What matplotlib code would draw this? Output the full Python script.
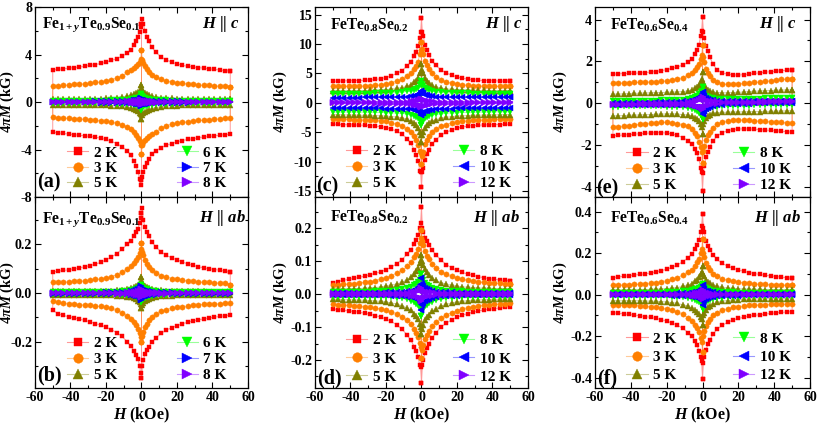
import matplotlib
matplotlib.use("Agg")
import matplotlib.pyplot as plt
from matplotlib.lines import Line2D
from matplotlib.ticker import MultipleLocator, FormatStrFormatter
from matplotlib.colors import to_rgba

plt.rcParams.update({
    "font.family": "Liberation Serif",
    "font.weight": "bold",
    "axes.labelweight": "bold",
    "axes.unicode_minus": False,
    "mathtext.fontset": "custom",
    "mathtext.rm": "Liberation Serif:bold",
    "mathtext.it": "Liberation Serif:italic:bold",
    "mathtext.bf": "Liberation Serif:bold",
})

# field grid (kOe), shared by every loop
H = [-50, -47, -44, -41, -38, -35, -32, -29, -26, -23, -20, -17, -14, -11, -8, -6, -4, -3, -2, -1, -0.5,
     0, 0.5, 1, 2, 3, 4, 6, 8, 11, 14, 17, 20, 23, 26, 29, 32, 35, 38, 41, 44, 47, 50]

TEMPS_A = ["2 K", "3 K", "5 K", "6 K", "7 K", "8 K"]
TEMPS_C = ["2 K", "3 K", "5 K", "8 K", "10 K", "12 K"]

# ---- (a) Fe1+yTe0.9Se0.1, H || c  (kG) ; U = upper branch, D = lower branch
A2U = [2.7,2.75,2.8,2.85,2.9,2.95,3.0,3.1,3.15,3.25,3.35,3.5,3.65,3.85,4.1,4.4,4.8,5.1,5.5,5.9,6.3,6.6,7.0,6.6,6.0,5.5,5.1,4.6,4.2,3.8,3.55,3.35,3.2,3.1,3.0,2.95,2.9,2.85,2.8,2.75,2.7,2.65,2.6]
A2D = [-2.55,-2.6,-2.65,-2.7,-2.75,-2.8,-2.85,-2.9,-2.95,-3.05,-3.15,-3.3,-3.5,-3.75,-4.1,-4.5,-5.0,-5.4,-5.9,-6.5,-7.0,-6.6,-6.3,-5.9,-5.5,-5.1,-4.8,-4.4,-4.1,-3.85,-3.65,-3.5,-3.35,-3.25,-3.15,-3.1,-3.0,-2.95,-2.9,-2.85,-2.8,-2.75,-2.7]
A3U = [1.35,1.38,1.4,1.45,1.5,1.52,1.55,1.6,1.65,1.7,1.78,1.88,2.0,2.2,2.5,2.7,2.9,3.05,3.2,3.4,3.6,4.4,3.5,3.3,3.0,2.75,2.55,2.3,2.1,1.9,1.78,1.7,1.63,1.57,1.52,1.48,1.45,1.42,1.4,1.37,1.35,1.32,1.3]
A3D = [-1.3,-1.32,-1.35,-1.37,-1.4,-1.42,-1.45,-1.48,-1.52,-1.57,-1.63,-1.7,-1.78,-1.9,-2.1,-2.3,-2.55,-2.75,-3.0,-3.3,-3.6,-4.4,-3.6,-3.4,-3.2,-3.05,-2.9,-2.7,-2.5,-2.2,-2.0,-1.88,-1.78,-1.7,-1.65,-1.6,-1.55,-1.52,-1.5,-1.45,-1.4,-1.38,-1.35]
A5U = [0.25,0.25,0.25,0.25,0.26,0.26,0.27,0.27,0.28,0.29,0.3,0.32,0.35,0.4,0.47,0.55,0.65,0.72,0.82,0.95,1.1,1.45,1.0,0.9,0.78,0.68,0.6,0.5,0.43,0.37,0.33,0.3,0.28,0.27,0.26,0.26,0.25,0.25,0.24,0.24,0.24,0.23,0.23]
A5D = [-0.23,-0.23,-0.24,-0.24,-0.24,-0.25,-0.25,-0.26,-0.26,-0.27,-0.28,-0.3,-0.33,-0.37,-0.43,-0.5,-0.6,-0.68,-0.78,-0.9,-1.0,-1.45,-1.1,-0.95,-0.82,-0.72,-0.65,-0.55,-0.47,-0.4,-0.35,-0.32,-0.3,-0.29,-0.28,-0.27,-0.27,-0.26,-0.26,-0.25,-0.25,-0.25,-0.25]
A6U = [0.1,0.1,0.1,0.1,0.1,0.1,0.1,0.11,0.11,0.12,0.12,0.13,0.14,0.16,0.19,0.22,0.27,0.31,0.36,0.45,0.52,0.7,0.48,0.42,0.34,0.29,0.25,0.2,0.17,0.14,0.13,0.12,0.11,0.11,0.1,0.1,0.1,0.1,0.09,0.09,0.09,0.09,0.09]
A6D = [-0.09,-0.09,-0.09,-0.09,-0.09,-0.1,-0.1,-0.1,-0.1,-0.11,-0.11,-0.12,-0.13,-0.14,-0.17,-0.2,-0.25,-0.29,-0.34,-0.42,-0.48,-0.7,-0.52,-0.45,-0.36,-0.31,-0.27,-0.22,-0.19,-0.16,-0.14,-0.13,-0.12,-0.12,-0.11,-0.11,-0.1,-0.1,-0.1,-0.1,-0.1,-0.1,-0.1]
A7U = [0.04,0.04,0.04,0.04,0.04,0.04,0.04,0.04,0.05,0.05,0.05,0.05,0.06,0.07,0.08,0.1,0.13,0.15,0.18,0.22,0.26,0.35,0.24,0.2,0.16,0.13,0.11,0.09,0.07,0.06,0.05,0.05,0.05,0.05,0.04,0.04,0.04,0.04,0.04,0.04,0.04,0.04,0.04]
A7D = [-0.04,-0.04,-0.04,-0.04,-0.04,-0.04,-0.04,-0.04,-0.04,-0.05,-0.05,-0.05,-0.05,-0.06,-0.07,-0.09,-0.11,-0.13,-0.16,-0.2,-0.24,-0.35,-0.26,-0.22,-0.18,-0.15,-0.13,-0.1,-0.08,-0.07,-0.06,-0.05,-0.05,-0.05,-0.05,-0.04,-0.04,-0.04,-0.04,-0.04,-0.04,-0.04,-0.04]
A8U = [0.02,0.02,0.02,0.02,0.02,0.02,0.02,0.02,0.02,0.02,0.02,0.03,0.03,0.04,0.05,0.06,0.08,0.09,0.11,0.13,0.15,0.2,0.14,0.12,0.09,0.08,0.06,0.05,0.04,0.03,0.03,0.02,0.02,0.02,0.02,0.02,0.02,0.02,0.02,0.02,0.02,0.02,0.02]
A8D = [-0.02,-0.02,-0.02,-0.02,-0.02,-0.02,-0.02,-0.02,-0.02,-0.02,-0.02,-0.02,-0.03,-0.03,-0.04,-0.05,-0.06,-0.08,-0.09,-0.12,-0.14,-0.2,-0.15,-0.13,-0.11,-0.09,-0.08,-0.06,-0.05,-0.04,-0.03,-0.03,-0.02,-0.02,-0.02,-0.02,-0.02,-0.02,-0.02,-0.02,-0.02,-0.02,-0.02]

# ---- (b) Fe1+yTe0.9Se0.1, H || ab
B2U = [0.087,0.09,0.093,0.096,0.1,0.104,0.108,0.113,0.119,0.126,0.136,0.148,0.162,0.18,0.2,0.215,0.235,0.25,0.265,0.29,0.31,0.33,0.35,0.3,0.27,0.25,0.235,0.21,0.19,0.17,0.155,0.145,0.137,0.128,0.12,0.114,0.108,0.104,0.1,0.097,0.094,0.09,0.085]
B2D = [-0.07,-0.085,-0.092,-0.097,-0.102,-0.107,-0.112,-0.118,-0.125,-0.132,-0.14,-0.15,-0.162,-0.178,-0.2,-0.218,-0.24,-0.255,-0.27,-0.3,-0.33,-0.35,-0.3,-0.275,-0.25,-0.235,-0.22,-0.2,-0.185,-0.166,-0.152,-0.142,-0.134,-0.126,-0.12,-0.114,-0.11,-0.106,-0.102,-0.099,-0.096,-0.093,-0.09]
B3U = [0.044,0.045,0.046,0.047,0.048,0.05,0.051,0.053,0.056,0.059,0.063,0.068,0.075,0.085,0.098,0.11,0.125,0.135,0.148,0.165,0.18,0.205,0.17,0.155,0.135,0.12,0.108,0.093,0.082,0.072,0.065,0.06,0.056,0.053,0.05,0.048,0.047,0.045,0.044,0.043,0.042,0.04,0.033]
B3D = [-0.034,-0.038,-0.041,-0.043,-0.045,-0.047,-0.048,-0.05,-0.052,-0.055,-0.058,-0.063,-0.07,-0.08,-0.093,-0.105,-0.12,-0.132,-0.148,-0.165,-0.18,-0.2,-0.175,-0.16,-0.14,-0.125,-0.112,-0.097,-0.085,-0.075,-0.068,-0.063,-0.059,-0.056,-0.053,-0.05,-0.048,-0.046,-0.045,-0.044,-0.043,-0.042,-0.04]
B5U = [0.007,0.007,0.007,0.007,0.007,0.007,0.007,0.008,0.008,0.008,0.009,0.01,0.011,0.013,0.016,0.019,0.024,0.028,0.033,0.04,0.047,0.065,0.045,0.038,0.031,0.026,0.022,0.017,0.014,0.011,0.01,0.009,0.008,0.008,0.007,0.007,0.007,0.007,0.006,0.006,0.006,0.006,0.006]
B5D = [-0.006,-0.006,-0.006,-0.006,-0.006,-0.007,-0.007,-0.007,-0.007,-0.008,-0.008,-0.009,-0.01,-0.011,-0.014,-0.017,-0.022,-0.026,-0.031,-0.038,-0.045,-0.06,-0.047,-0.04,-0.033,-0.028,-0.024,-0.019,-0.016,-0.013,-0.011,-0.01,-0.009,-0.008,-0.008,-0.008,-0.007,-0.007,-0.007,-0.007,-0.007,-0.007,-0.007]
B6U = [0.003,0.003,0.003,0.003,0.003,0.003,0.003,0.003,0.003,0.004,0.004,0.005,0.006,0.007,0.009,0.011,0.014,0.016,0.019,0.024,0.028,0.035,0.026,0.022,0.018,0.015,0.012,0.009,0.007,0.006,0.005,0.004,0.004,0.003,0.003,0.003,0.003,0.003,0.003,0.003,0.003,0.003,0.003]
B6D = [-0.003,-0.003,-0.003,-0.003,-0.003,-0.003,-0.003,-0.003,-0.003,-0.003,-0.004,-0.004,-0.005,-0.006,-0.007,-0.009,-0.012,-0.015,-0.018,-0.022,-0.026,-0.035,-0.028,-0.024,-0.019,-0.016,-0.014,-0.011,-0.009,-0.007,-0.006,-0.005,-0.004,-0.004,-0.003,-0.003,-0.003,-0.003,-0.003,-0.003,-0.003,-0.003,-0.003]
B7U = [0.002,0.002,0.002,0.002,0.002,0.002,0.002,0.002,0.002,0.002,0.003,0.003,0.004,0.005,0.006,0.008,0.01,0.012,0.015,0.019,0.023,0.03,0.021,0.017,0.013,0.011,0.009,0.007,0.005,0.004,0.003,0.003,0.002,0.002,0.002,0.002,0.002,0.002,0.002,0.002,0.002,0.002,0.002]
B7D = [-0.002,-0.002,-0.002,-0.002,-0.002,-0.002,-0.002,-0.002,-0.002,-0.002,-0.002,-0.003,-0.003,-0.004,-0.005,-0.007,-0.009,-0.011,-0.013,-0.017,-0.021,-0.03,-0.023,-0.019,-0.015,-0.012,-0.01,-0.008,-0.006,-0.005,-0.004,-0.003,-0.003,-0.002,-0.002,-0.002,-0.002,-0.002,-0.002,-0.002,-0.002,-0.002,-0.002]
B8U = [0.001,0.001,0.001,0.001,0.001,0.001,0.001,0.001,0.001,0.001,0.001,0.001,0.002,0.002,0.003,0.004,0.005,0.006,0.008,0.01,0.012,0.016,0.011,0.009,0.007,0.006,0.005,0.004,0.003,0.002,0.002,0.001,0.001,0.001,0.001,0.001,0.001,0.001,0.001,0.001,0.001,0.001,0.001]
B8D = [-0.001,-0.001,-0.001,-0.001,-0.001,-0.001,-0.001,-0.001,-0.001,-0.001,-0.001,-0.001,-0.002,-0.002,-0.003,-0.004,-0.005,-0.006,-0.007,-0.009,-0.011,-0.016,-0.012,-0.01,-0.008,-0.006,-0.005,-0.004,-0.003,-0.002,-0.002,-0.001,-0.001,-0.001,-0.001,-0.001,-0.001,-0.001,-0.001,-0.001,-0.001,-0.001,-0.001]

# ---- (c) FeTe0.8Se0.2, H || c
C2U = [3.7,3.7,3.75,3.75,3.8,3.8,3.85,3.9,4.0,4.1,4.3,4.6,5.0,5.5,6.3,7.0,8.0,8.7,9.7,11.0,12.0,14.4,12.0,11.3,9.9,9.0,8.2,7.1,6.4,5.6,5.1,4.7,4.4,4.2,4.05,3.95,3.85,3.8,3.78,3.75,3.72,3.7,3.7]
C2D = [-3.6,-3.65,-3.7,-3.72,-3.75,-3.78,-3.8,-3.85,-3.95,-4.05,-4.2,-4.45,-4.8,-5.3,-6.1,-6.9,-8.0,-8.8,-9.8,-11.5,-11.8,-14.3,-11.7,-11.0,-9.7,-8.7,-8.0,-7.0,-6.3,-5.5,-5.0,-4.6,-4.3,-4.1,-3.95,-3.85,-3.8,-3.75,-3.72,-3.7,-3.68,-3.65,-3.6]
C3U = [2.8,2.8,2.82,2.84,2.86,2.88,2.9,2.95,3.0,3.1,3.2,3.4,3.7,4.0,4.5,5.0,5.7,6.3,7.0,8.3,9.0,10.4,9.2,8.3,7.2,6.4,5.8,5.0,4.4,3.9,3.55,3.35,3.2,3.1,3.0,2.95,2.9,2.88,2.85,2.83,2.8,2.8,2.8]
C3D = [-2.7,-2.75,-2.78,-2.8,-2.83,-2.85,-2.88,-2.92,-2.98,-3.05,-3.15,-3.35,-3.6,-3.9,-4.4,-4.9,-5.7,-6.3,-7.1,-8.2,-8.6,-10.4,-9.0,-8.3,-7.0,-6.3,-5.7,-5.0,-4.5,-4.0,-3.7,-3.4,-3.2,-3.1,-3.0,-2.95,-2.9,-2.86,-2.84,-2.82,-2.8,-2.78,-2.75]
C5U = [2.0,2.0,2.02,2.04,2.06,2.08,2.1,2.12,2.15,2.2,2.25,2.35,2.45,2.6,2.85,3.1,3.5,3.8,4.3,5.0,5.5,6.6,5.6,5.0,4.3,3.8,3.45,3.0,2.75,2.5,2.38,2.3,2.25,2.2,2.17,2.15,2.13,2.12,2.1,2.1,2.1,2.1,2.1]
C5D = [-2.0,-2.02,-2.04,-2.06,-2.08,-2.1,-2.12,-2.14,-2.17,-2.2,-2.25,-2.32,-2.42,-2.55,-2.8,-3.05,-3.45,-3.8,-4.3,-5.0,-5.5,-6.6,-5.5,-5.0,-4.3,-3.8,-3.5,-3.1,-2.85,-2.6,-2.45,-2.35,-2.25,-2.2,-2.15,-2.12,-2.1,-2.08,-2.06,-2.04,-2.02,-2.0,-2.0]
C8U = [1.5,1.5,1.5,1.52,1.53,1.55,1.56,1.58,1.6,1.62,1.65,1.7,1.75,1.82,1.95,2.05,2.25,2.4,2.6,3.0,3.2,3.7,3.2,2.9,2.55,2.35,2.2,2.0,1.88,1.78,1.72,1.68,1.65,1.62,1.6,1.58,1.57,1.56,1.55,1.55,1.55,1.55,1.55]
C8D = [-1.55,-1.55,-1.55,-1.55,-1.55,-1.56,-1.57,-1.58,-1.6,-1.62,-1.65,-1.68,-1.72,-1.78,-1.88,-2.0,-2.2,-2.35,-2.55,-2.9,-3.2,-3.7,-3.2,-3.0,-2.6,-2.4,-2.25,-2.05,-1.95,-1.82,-1.75,-1.7,-1.65,-1.62,-1.6,-1.58,-1.56,-1.55,-1.53,-1.52,-1.5,-1.5,-1.5]
C10U = [0.9,0.9,0.9,0.9,0.91,0.91,0.92,0.92,0.93,0.94,0.95,0.97,1.0,1.03,1.08,1.15,1.25,1.32,1.45,1.65,1.8,2.1,1.75,1.6,1.42,1.3,1.22,1.12,1.06,1.02,0.99,0.97,0.96,0.95,0.94,0.93,0.93,0.92,0.92,0.92,0.92,0.92,0.92]
C10D = [-0.92,-0.92,-0.92,-0.92,-0.92,-0.92,-0.93,-0.93,-0.94,-0.95,-0.96,-0.97,-0.99,-1.02,-1.06,-1.12,-1.22,-1.3,-1.42,-1.6,-1.75,-2.1,-1.8,-1.65,-1.45,-1.32,-1.25,-1.15,-1.08,-1.03,-1.0,-0.97,-0.95,-0.94,-0.93,-0.92,-0.92,-0.91,-0.91,-0.9,-0.9,-0.9,-0.9]
C12U = [0.1,0.1,0.1,0.1,0.1,0.1,0.1,0.1,0.11,0.11,0.12,0.13,0.14,0.16,0.2,0.25,0.32,0.37,0.45,0.55,0.6,0.7,0.58,0.5,0.42,0.35,0.3,0.24,0.19,0.16,0.14,0.13,0.12,0.11,0.11,0.1,0.1,0.1,0.1,0.1,0.1,0.1,0.1]
C12D = [-0.1,-0.1,-0.1,-0.1,-0.1,-0.1,-0.1,-0.1,-0.11,-0.11,-0.12,-0.13,-0.14,-0.16,-0.19,-0.24,-0.3,-0.35,-0.42,-0.5,-0.58,-0.7,-0.6,-0.55,-0.45,-0.37,-0.32,-0.25,-0.2,-0.16,-0.14,-0.13,-0.12,-0.11,-0.11,-0.1,-0.1,-0.1,-0.1,-0.1,-0.1,-0.1,-0.1]

# ---- (d) FeTe0.8Se0.2, H || ab
D2U = [0.035,0.038,0.042,0.045,0.048,0.051,0.055,0.059,0.063,0.068,0.074,0.082,0.092,0.105,0.122,0.135,0.153,0.165,0.18,0.2,0.215,0.265,0.2,0.19,0.172,0.16,0.15,0.133,0.12,0.103,0.09,0.08,0.072,0.066,0.061,0.057,0.053,0.05,0.047,0.045,0.043,0.042,0.04]
D2D = [-0.045,-0.047,-0.049,-0.051,-0.053,-0.055,-0.058,-0.061,-0.065,-0.07,-0.076,-0.083,-0.093,-0.106,-0.125,-0.14,-0.16,-0.172,-0.19,-0.215,-0.22,-0.27,-0.215,-0.2,-0.178,-0.165,-0.152,-0.133,-0.118,-0.1,-0.088,-0.078,-0.07,-0.064,-0.059,-0.055,-0.051,-0.048,-0.046,-0.044,-0.042,-0.04,-0.038]
D3U = [0.028,0.029,0.03,0.031,0.032,0.034,0.036,0.038,0.041,0.045,0.05,0.056,0.063,0.072,0.085,0.097,0.112,0.123,0.137,0.155,0.17,0.195,0.16,0.148,0.13,0.117,0.106,0.091,0.08,0.068,0.06,0.054,0.049,0.045,0.042,0.04,0.038,0.036,0.035,0.034,0.033,0.032,0.031]
D3D = [-0.031,-0.032,-0.033,-0.034,-0.035,-0.036,-0.038,-0.04,-0.042,-0.045,-0.049,-0.054,-0.06,-0.068,-0.08,-0.091,-0.106,-0.117,-0.13,-0.148,-0.16,-0.195,-0.17,-0.155,-0.137,-0.123,-0.112,-0.097,-0.085,-0.072,-0.063,-0.056,-0.05,-0.045,-0.041,-0.038,-0.036,-0.034,-0.032,-0.031,-0.03,-0.029,-0.028]
D5U = [0.015,0.015,0.016,0.016,0.017,0.017,0.018,0.019,0.02,0.022,0.024,0.027,0.031,0.036,0.044,0.052,0.062,0.07,0.08,0.095,0.105,0.12,0.1,0.09,0.077,0.067,0.059,0.049,0.042,0.035,0.03,0.027,0.024,0.022,0.021,0.02,0.019,0.018,0.018,0.017,0.017,0.016,0.016]
D5D = [-0.016,-0.016,-0.017,-0.017,-0.018,-0.018,-0.019,-0.02,-0.021,-0.022,-0.024,-0.027,-0.03,-0.035,-0.042,-0.049,-0.059,-0.067,-0.077,-0.09,-0.1,-0.12,-0.105,-0.095,-0.08,-0.07,-0.062,-0.052,-0.044,-0.036,-0.031,-0.027,-0.024,-0.022,-0.02,-0.019,-0.018,-0.017,-0.017,-0.016,-0.016,-0.015,-0.015]
D8U = [0.008,0.008,0.008,0.008,0.008,0.008,0.008,0.008,0.009,0.009,0.01,0.011,0.013,0.015,0.019,0.023,0.028,0.032,0.037,0.044,0.05,0.06,0.048,0.042,0.034,0.029,0.025,0.02,0.016,0.013,0.011,0.01,0.009,0.009,0.008,0.008,0.008,0.008,0.008,0.008,0.008,0.008,0.008]
D8D = [-0.008,-0.008,-0.008,-0.008,-0.008,-0.008,-0.008,-0.008,-0.008,-0.009,-0.009,-0.01,-0.011,-0.013,-0.016,-0.02,-0.025,-0.029,-0.034,-0.042,-0.048,-0.065,-0.05,-0.044,-0.037,-0.032,-0.028,-0.023,-0.019,-0.015,-0.013,-0.011,-0.01,-0.009,-0.009,-0.008,-0.008,-0.008,-0.008,-0.008,-0.008,-0.008,-0.008]
D10U = [0.004,0.004,0.004,0.004,0.004,0.004,0.004,0.004,0.004,0.004,0.005,0.005,0.006,0.007,0.009,0.011,0.014,0.017,0.021,0.027,0.032,0.048,0.03,0.025,0.019,0.015,0.012,0.01,0.008,0.006,0.005,0.005,0.004,0.004,0.004,0.004,0.004,0.004,0.004,0.004,0.004,0.004,0.004]
D10D = [-0.004,-0.004,-0.004,-0.004,-0.004,-0.004,-0.004,-0.004,-0.004,-0.004,-0.004,-0.005,-0.005,-0.006,-0.008,-0.01,-0.012,-0.015,-0.019,-0.025,-0.03,-0.048,-0.032,-0.027,-0.021,-0.017,-0.014,-0.011,-0.009,-0.007,-0.006,-0.005,-0.005,-0.004,-0.004,-0.004,-0.004,-0.004,-0.004,-0.004,-0.004,-0.004,-0.004]
D12U = [0.002,0.002,0.002,0.002,0.002,0.002,0.002,0.002,0.002,0.002,0.002,0.002,0.003,0.003,0.004,0.005,0.006,0.007,0.009,0.012,0.014,0.02,0.013,0.011,0.008,0.007,0.006,0.005,0.004,0.003,0.003,0.002,0.002,0.002,0.002,0.002,0.002,0.002,0.002,0.002,0.002,0.002,0.002]
D12D = [-0.002,-0.002,-0.002,-0.002,-0.002,-0.002,-0.002,-0.002,-0.002,-0.002,-0.002,-0.002,-0.003,-0.003,-0.004,-0.005,-0.006,-0.007,-0.008,-0.011,-0.013,-0.02,-0.014,-0.012,-0.009,-0.007,-0.006,-0.005,-0.004,-0.003,-0.003,-0.002,-0.002,-0.002,-0.002,-0.002,-0.002,-0.002,-0.002,-0.002,-0.002,-0.002,-0.002]

# ---- (e) FeTe0.6Se0.4, H || c
E2U = [1.38,1.4,1.41,1.42,1.43,1.44,1.46,1.48,1.51,1.55,1.6,1.66,1.73,1.82,1.95,2.1,2.35,2.55,2.8,3.2,3.45,4.1,3.4,3.1,2.75,2.5,2.2,1.85,1.6,1.45,1.38,1.35,1.34,1.36,1.39,1.42,1.45,1.48,1.5,1.52,1.55,1.57,1.6]
E2D = [-1.57,-1.55,-1.53,-1.51,-1.49,-1.47,-1.45,-1.43,-1.42,-1.42,-1.44,-1.48,-1.55,-1.65,-1.8,-1.95,-2.2,-2.4,-2.7,-3.1,-3.3,-4.2,-3.35,-3.0,-2.6,-2.35,-2.1,-1.8,-1.6,-1.42,-1.32,-1.27,-1.24,-1.24,-1.24,-1.25,-1.27,-1.29,-1.31,-1.33,-1.35,-1.37,-1.4]
E3U = [0.95,0.96,0.97,0.98,0.99,1.0,1.01,1.02,1.03,1.05,1.07,1.1,1.15,1.22,1.32,1.42,1.6,1.72,1.88,2.1,2.3,2.8,2.2,1.95,1.65,1.45,1.3,1.1,1.0,0.93,0.9,0.9,0.92,0.94,0.96,0.99,1.02,1.05,1.08,1.1,1.13,1.15,1.17]
E3D = [-1.15,-1.13,-1.1,-1.08,-1.05,-1.02,-0.99,-0.96,-0.94,-0.92,-0.92,-0.94,-0.98,-1.03,-1.12,-1.25,-1.45,-1.6,-1.85,-2.1,-2.35,-2.85,-2.3,-2.05,-1.78,-1.55,-1.38,-1.18,-1.0,-0.9,-0.85,-0.82,-0.8,-0.8,-0.82,-0.84,-0.86,-0.88,-0.9,-0.92,-0.93,-0.94,-0.95]
E5U = [0.42,0.43,0.44,0.45,0.46,0.47,0.48,0.49,0.5,0.5,0.51,0.52,0.53,0.55,0.58,0.62,0.7,0.76,0.85,1.0,1.15,1.5,1.0,0.85,0.7,0.62,0.57,0.52,0.5,0.49,0.49,0.5,0.51,0.53,0.55,0.56,0.58,0.59,0.6,0.61,0.62,0.63,0.63]
E5D = [-0.62,-0.61,-0.6,-0.59,-0.58,-0.57,-0.56,-0.55,-0.54,-0.53,-0.52,-0.52,-0.53,-0.55,-0.58,-0.62,-0.7,-0.76,-0.85,-1.0,-1.15,-1.5,-1.0,-0.85,-0.7,-0.62,-0.56,-0.5,-0.47,-0.45,-0.44,-0.43,-0.43,-0.42,-0.42,-0.41,-0.41,-0.4,-0.4,-0.39,-0.38,-0.38,-0.37]
E8U = [0.1,0.1,0.1,0.11,0.11,0.11,0.12,0.12,0.12,0.13,0.13,0.14,0.15,0.17,0.2,0.24,0.3,0.35,0.42,0.52,0.6,0.75,0.55,0.45,0.36,0.3,0.26,0.22,0.2,0.19,0.19,0.19,0.2,0.2,0.21,0.21,0.21,0.22,0.22,0.22,0.22,0.23,0.23]
E8D = [-0.17,-0.17,-0.16,-0.16,-0.16,-0.16,-0.16,-0.16,-0.16,-0.16,-0.17,-0.18,-0.19,-0.21,-0.24,-0.28,-0.34,-0.4,-0.47,-0.57,-0.65,-0.75,-0.55,-0.45,-0.36,-0.3,-0.25,-0.2,-0.17,-0.15,-0.14,-0.13,-0.12,-0.12,-0.12,-0.11,-0.11,-0.11,-0.11,-0.1,-0.1,-0.1,-0.1]
E10U = [0.0,0.0,0.01,0.01,0.01,0.02,0.02,0.02,0.03,0.03,0.04,0.05,0.06,0.08,0.11,0.14,0.19,0.23,0.28,0.36,0.42,0.52,0.38,0.32,0.25,0.2,0.17,0.13,0.11,0.09,0.08,0.08,0.08,0.08,0.08,0.09,0.09,0.09,0.09,0.1,0.1,0.1,0.1]
E10D = [-0.1,-0.1,-0.1,-0.1,-0.09,-0.09,-0.09,-0.09,-0.08,-0.08,-0.08,-0.08,-0.08,-0.09,-0.11,-0.13,-0.17,-0.2,-0.25,-0.32,-0.38,-0.52,-0.42,-0.36,-0.28,-0.23,-0.19,-0.14,-0.11,-0.08,-0.06,-0.05,-0.04,-0.03,-0.03,-0.02,-0.02,-0.02,-0.01,-0.01,-0.01,0.0,0.0]
E12U = [-0.04,-0.04,-0.03,-0.03,-0.03,-0.02,-0.02,-0.02,-0.01,-0.01,-0.01,0.0,0.01,0.02,0.04,0.06,0.09,0.11,0.14,0.18,0.21,0.28,0.2,0.17,0.14,0.12,0.1,0.09,0.08,0.07,0.07,0.07,0.07,0.07,0.07,0.07,0.08,0.08,0.08,0.08,0.08,0.08,0.08]
E12D = [-0.08,-0.08,-0.08,-0.08,-0.08,-0.08,-0.08,-0.07,-0.07,-0.07,-0.07,-0.07,-0.07,-0.08,-0.09,-0.1,-0.12,-0.14,-0.17,-0.2,-0.22,-0.28,-0.21,-0.18,-0.14,-0.11,-0.09,-0.06,-0.04,-0.02,-0.01,0.0,0.01,0.01,0.01,0.02,0.02,0.02,0.03,0.03,0.03,0.04,0.04]

# ---- (f) FeTe0.6Se0.4, H || ab
F2U = [0.082,0.085,0.088,0.091,0.094,0.097,0.1,0.104,0.109,0.115,0.122,0.131,0.143,0.158,0.178,0.195,0.22,0.24,0.265,0.3,0.33,0.39,0.32,0.3,0.26,0.235,0.215,0.19,0.17,0.15,0.137,0.127,0.119,0.112,0.106,0.101,0.097,0.093,0.09,0.087,0.084,0.081,0.078]
F2D = [-0.088,-0.09,-0.093,-0.096,-0.099,-0.102,-0.106,-0.11,-0.115,-0.121,-0.128,-0.137,-0.148,-0.163,-0.183,-0.2,-0.225,-0.245,-0.27,-0.3,-0.32,-0.405,-0.33,-0.3,-0.265,-0.24,-0.22,-0.19,-0.168,-0.148,-0.134,-0.123,-0.115,-0.109,-0.104,-0.1,-0.097,-0.094,-0.091,-0.088,-0.086,-0.084,-0.082]
F3U = [0.045,0.046,0.047,0.048,0.049,0.051,0.053,0.055,0.058,0.062,0.067,0.073,0.081,0.092,0.108,0.12,0.14,0.155,0.17,0.2,0.22,0.27,0.2,0.18,0.15,0.135,0.12,0.1,0.088,0.076,0.069,0.064,0.06,0.057,0.054,0.052,0.05,0.049,0.048,0.047,0.046,0.045,0.044]
F3D = [-0.048,-0.049,-0.05,-0.051,-0.052,-0.054,-0.056,-0.058,-0.061,-0.065,-0.07,-0.076,-0.085,-0.096,-0.112,-0.125,-0.145,-0.16,-0.18,-0.21,-0.23,-0.275,-0.2,-0.175,-0.15,-0.133,-0.118,-0.1,-0.087,-0.075,-0.068,-0.062,-0.058,-0.055,-0.052,-0.05,-0.049,-0.048,-0.047,-0.046,-0.046,-0.045,-0.045]
F5U = [0.022,0.022,0.022,0.023,0.023,0.024,0.024,0.025,0.026,0.027,0.029,0.031,0.034,0.039,0.046,0.053,0.064,0.072,0.083,0.1,0.11,0.14,0.1,0.088,0.072,0.062,0.055,0.046,0.04,0.035,0.032,0.03,0.028,0.027,0.026,0.025,0.025,0.024,0.024,0.024,0.023,0.023,0.023]
F5D = [-0.03,-0.03,-0.03,-0.03,-0.03,-0.03,-0.031,-0.032,-0.033,-0.034,-0.036,-0.039,-0.043,-0.049,-0.056,-0.064,-0.075,-0.083,-0.095,-0.11,-0.12,-0.145,-0.1,-0.088,-0.072,-0.062,-0.054,-0.045,-0.038,-0.032,-0.029,-0.026,-0.024,-0.023,-0.022,-0.021,-0.021,-0.02,-0.02,-0.02,-0.02,-0.02,-0.02]
F8U = [0.008,0.008,0.008,0.008,0.008,0.008,0.008,0.008,0.009,0.009,0.01,0.011,0.013,0.015,0.018,0.021,0.025,0.028,0.033,0.038,0.043,0.052,0.042,0.037,0.031,0.026,0.022,0.018,0.015,0.012,0.011,0.01,0.009,0.009,0.008,0.008,0.008,0.008,0.008,0.008,0.008,0.008,0.008]
F8D = [-0.008,-0.008,-0.008,-0.008,-0.008,-0.008,-0.008,-0.008,-0.008,-0.009,-0.009,-0.01,-0.011,-0.013,-0.016,-0.02,-0.024,-0.029,-0.035,-0.042,-0.05,-0.07,-0.048,-0.042,-0.036,-0.031,-0.027,-0.022,-0.018,-0.015,-0.012,-0.011,-0.01,-0.009,-0.009,-0.008,-0.008,-0.008,-0.008,-0.008,-0.008,-0.008,-0.008]
F10U = [0.004,0.004,0.004,0.004,0.004,0.004,0.004,0.004,0.004,0.004,0.005,0.005,0.006,0.007,0.009,0.011,0.014,0.017,0.021,0.027,0.032,0.048,0.03,0.025,0.019,0.015,0.012,0.01,0.008,0.006,0.005,0.005,0.004,0.004,0.004,0.004,0.004,0.004,0.004,0.004,0.004,0.004,0.004]
F10D = [-0.004,-0.004,-0.004,-0.004,-0.004,-0.004,-0.004,-0.004,-0.004,-0.004,-0.004,-0.005,-0.005,-0.006,-0.008,-0.01,-0.012,-0.015,-0.019,-0.025,-0.03,-0.048,-0.032,-0.027,-0.021,-0.017,-0.014,-0.011,-0.009,-0.007,-0.006,-0.005,-0.005,-0.004,-0.004,-0.004,-0.004,-0.004,-0.004,-0.004,-0.004,-0.004,-0.004]
F12U = [0.002,0.002,0.002,0.002,0.002,0.002,0.002,0.002,0.002,0.002,0.002,0.002,0.003,0.003,0.004,0.005,0.006,0.007,0.009,0.012,0.014,0.02,0.013,0.011,0.008,0.007,0.006,0.005,0.004,0.003,0.003,0.002,0.002,0.002,0.002,0.002,0.002,0.002,0.002,0.002,0.002,0.002,0.002]
F12D = [-0.002,-0.002,-0.002,-0.002,-0.002,-0.002,-0.002,-0.002,-0.002,-0.002,-0.002,-0.002,-0.003,-0.003,-0.004,-0.005,-0.006,-0.007,-0.008,-0.011,-0.013,-0.02,-0.014,-0.012,-0.009,-0.007,-0.006,-0.005,-0.004,-0.003,-0.003,-0.002,-0.002,-0.002,-0.002,-0.002,-0.002,-0.002,-0.002,-0.002,-0.002,-0.002,-0.002]

COLORS = ["#ff0000", "#ff7f00", "#808000", "#00ff00", "#0000ff", "#8000ff"]
MARK_A = ["s", "o", "^", "v", ">", ">"]
MARK_C = ["s", "o", "^", "v", "<", ">"]
MSIZE = [3.3, 3.8, 4.3, 4.3, 4.3, 4.3]

COMP_A = r"Fe$_{\mathrm{1+}y}$Te$_{\mathrm{0.9}}$Se$_{\mathrm{0.1}}$"
COMP_C = r"FeTe$_{\mathrm{0.8}}$Se$_{\mathrm{0.2}}$"
COMP_E = r"FeTe$_{\mathrm{0.6}}$Se$_{\mathrm{0.4}}$"
HC = r"$H$ || $c$"
HAB = r"$H$ || $ab$"


def sweep(up, dn):
    # measurement order: +50 -> 0 upper, 0 -> -50 lower, -50 -> 0 upper, 0 -> +50 lower, close
    i0 = H.index(0)
    hx = H[i0:][::-1] + H[:i0 + 1][::-1] + H[:i0 + 1] + H[i0:] + [H[-1]]
    my = up[i0:][::-1] + dn[:i0 + 1][::-1] + up[:i0 + 1] + dn[i0:] + [up[-1]]
    return hx, my


L, M, R = 35 / 817, 315 / 817, 595 / 817
TOP, BOT = 0.5397, 0.0935
panels = [
    dict(rect=[L, TOP, 0.2607, 0.4439], loops=[(A2U, A2D), (A3U, A3D), (A5U, A5D), (A6U, A6D), (A7U, A7D), (A8U, A8D)],
         temps=TEMPS_A, marks=MARK_A, ylim=(-8, 8), major=4, minor=2, fmt="%d", comp=COMP_A, compxy=(0.033, 0.893),
         field=HC, fieldxy=(0.962, 0.888), tag="(a)", tagxy=(0.008, 0.074), leg=(0.15, 0.665, 0.036, 0.1),
         ylx=-0.088, bottom=False),
    dict(rect=[L, BOT, 0.2607, 0.4462], loops=[(B2U, B2D), (B3U, B3D), (B5U, B5D), (B6U, B6D), (B7U, B7D), (B8U, B8D)],
         temps=TEMPS_A, marks=MARK_A, ylim=(-0.39, 0.395), major=0.2, minor=0.1, fmt="%.1f", comp=COMP_A, compxy=(0.033, 0.864),
         field=HAB, fieldxy=(0.99, 0.871), tag="(b)", tagxy=(0.008, 0.068), leg=(0.15, 0.665, 0.03, 0.15),
         ylx=-0.088, bottom=True),
    dict(rect=[M, TOP, 0.2607, 0.4439], loops=[(C2U, C2D), (C3U, C3D), (C5U, C5D), (C8U, C8D), (C10U, C10D), (C12U, C12D)],
         temps=TEMPS_C, marks=MARK_C, ylim=(-16, 16.3), major=5, minor=2.5, fmt="%d", comp=COMP_C, compxy=(0.07, 0.879),
         field=HC, fieldxy=(0.975, 0.888), tag="(c)", tagxy=(0.006, 0.054), leg=(0.145, 0.648, 0.036, 0.15),
         ylx=-0.12, bottom=False),
    dict(rect=[M, BOT, 0.2607, 0.4462], loops=[(D2U, D2D), (D3U, D3D), (D5U, D5D), (D8U, D8D), (D10U, D10D), (D12U, D12D)],
         temps=TEMPS_C, marks=MARK_C, ylim=(-0.285, 0.295), major=0.1, minor=0.05, fmt="%.1f", comp=COMP_C, compxy=(0.07, 0.871),
         field=HAB, fieldxy=(0.96, 0.871), tag="(d)", tagxy=(0.012, 0.052), leg=(0.145, 0.648, 0.022, 0.3),
         ylx=-0.12, bottom=True),
    dict(rect=[R, TOP, 0.2632, 0.4439], loops=[(E2U, E2D), (E3U, E3D), (E5U, E5D), (E8U, E8D), (E10U, E10D), (E12U, E12D)],
         temps=TEMPS_C, marks=MARK_C, ylim=(-4.5, 4.6), major=2, minor=1, fmt="%d", comp=COMP_E, compxy=(0.07, 0.879),
         field=HC, fieldxy=(0.94, 0.888), tag="(e)", tagxy=(0.006, 0.047), leg=(0.145, 0.642, 0.026, 0.15),
         ylx=-0.122, bottom=False),
    dict(rect=[R, BOT, 0.2632, 0.4462], loops=[(F2U, F2D), (F3U, F3D), (F5U, F5D), (F8U, F8D), (F10U, F10D), (F12U, F12D)],
         temps=TEMPS_C, marks=MARK_C, ylim=(-0.45, 0.47), major=0.2, minor=0.1, fmt="%.1f", comp=COMP_E, compxy=(0.07, 0.864),
         field=HAB, fieldxy=(0.955, 0.871), tag="(f)", tagxy=(0.012, 0.052), leg=(0.145, 0.642, 0.03, 0.3),
         ylx=-0.122, bottom=True),
]

fig = plt.figure(figsize=(8.17, 4.28), dpi=100)

for p in panels:
    ax = fig.add_axes(p["rect"])
    handles = []
    for (up, dn), c, m, ms, t in zip(p["loops"], COLORS, p["marks"], MSIZE, p["temps"]):
        hx, my = sweep(up, dn)
        lc = to_rgba(c, 0.4)
        ax.plot(hx, my, color=lc, lw=0.7, marker=m, ms=ms, mfc=c, mec=c, mew=0.3)
        handles.append(Line2D([], [], color=lc, lw=0.8, marker=m, ms=ms * 1.8, mfc=c, mec=c, mew=0.3, label=t))

    ax.set_xlim(-60, 60)
    ax.set_ylim(*p["ylim"])
    ax.xaxis.set_major_locator(MultipleLocator(20))
    ax.xaxis.set_minor_locator(MultipleLocator(10))
    ax.yaxis.set_major_locator(MultipleLocator(p["major"]))
    ax.yaxis.set_minor_locator(MultipleLocator(p["minor"]))
    ax.yaxis.set_major_formatter(FormatStrFormatter(p["fmt"]))
    ax.tick_params(which="both", direction="in", top=True, right=True, labelsize=10, width=0.8, pad=2)
    ax.tick_params(which="major", length=4)
    ax.tick_params(which="minor", length=2)
    for s in ax.spines.values():
        s.set_linewidth(0.9)
    if p["bottom"]:
        ax.set_xlabel(r"$H$ (kOe)", fontsize=11.5, labelpad=1.5)
    else:
        ax.tick_params(labelbottom=False)
    ax.set_ylabel(r"$\mathit{4\pi M}$ (kG)", fontsize=10.5)
    ax.yaxis.set_label_coords(p["ylx"], 0.5)

    ax.text(*p["compxy"], p["comp"], transform=ax.transAxes, fontsize=11.2, ha="left", va="baseline")
    ax.text(*p["fieldxy"], p["field"], transform=ax.transAxes, fontsize=12, ha="right", va="baseline")
    ax.text(*p["tagxy"], p["tag"], transform=ax.transAxes, fontsize=14.5, ha="left", va="center")

    x1, x2, y0, sp = p["leg"]
    kw = dict(loc="lower left", frameon=False, fontsize=11, handlelength=1.4, handletextpad=0.35,
              labelspacing=sp, borderpad=0, borderaxespad=0)
    leg1 = ax.legend(handles=handles[:3], bbox_to_anchor=(x1, y0), **kw)
    ax.add_artist(leg1)
    ax.legend(handles=handles[3:], bbox_to_anchor=(x2, y0), **kw)

fig.savefig("out.png", dpi=100)
